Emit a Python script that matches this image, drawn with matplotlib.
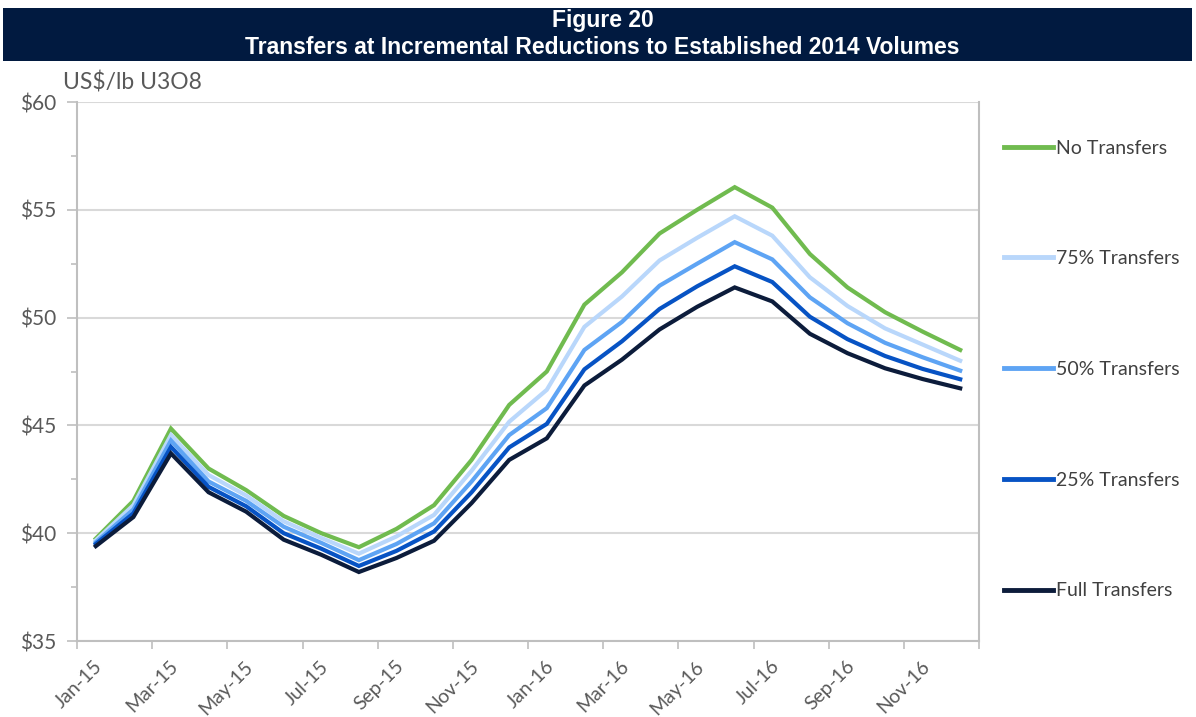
import matplotlib
matplotlib.use('Agg')
import matplotlib.pyplot as plt
from matplotlib.patches import Rectangle
import numpy as np

''' Data read off the Figure 20 chart (US$/lb U3O8, monthly) '''
months = ['Jan-15', 'Feb-15', 'Mar-15', 'Apr-15', 'May-15', 'Jun-15',
          'Jul-15', 'Aug-15', 'Sep-15', 'Oct-15', 'Nov-15', 'Dec-15',
          'Jan-16', 'Feb-16', 'Mar-16', 'Apr-16', 'May-16', 'Jun-16',
          'Jul-16', 'Aug-16', 'Sep-16', 'Oct-16', 'Nov-16', 'Dec-16']

no_transfers = [39.75, 41.5, 44.85, 43.0, 42.0, 40.8, 40.0, 39.35, 40.2, 41.3, 43.4, 45.95,
                47.5, 50.6, 52.1, 53.9, 55.0, 56.05, 55.1, 52.95, 51.4, 50.25, 49.35, 48.5]
transfers_75 = [39.67, 41.3, 44.55, 42.7, 41.75, 40.55, 39.78, 39.05, 39.85, 40.85, 42.9, 45.17,
                46.65, 49.57, 50.98, 52.65, 53.7, 54.7, 53.8, 51.87, 50.54, 49.5, 48.75, 48.0]
transfers_50 = [39.58, 41.1, 44.3, 42.4, 41.5, 40.3, 39.55, 38.75, 39.5, 40.46, 42.4, 44.55,
                45.8, 48.5, 49.8, 51.48, 52.5, 53.5, 52.7, 50.94, 49.74, 48.83, 48.16, 47.54]
transfers_25 = [39.5, 40.92, 44.0, 42.15, 41.25, 40.0, 39.28, 38.48, 39.18, 40.08, 41.9, 43.98,
                45.07, 47.6, 48.9, 50.4, 51.45, 52.38, 51.65, 50.04, 49.0, 48.22, 47.62, 47.14]
full_transfers = [39.4, 40.75, 43.7, 41.9, 41.0, 39.7, 39.0, 38.2, 38.85, 39.65, 41.4, 43.4,
                  44.4, 46.85, 48.05, 49.45, 50.5, 51.4, 50.75, 49.25, 48.35, 47.65, 47.15, 46.72]

series_labels = ['No Transfers', '75% Transfers', '50% Transfers', '25% Transfers', 'Full Transfers']
series_colors = ['#70bb4f', '#b9d7fb', '#5ea4f4', '#0753c4', '#0c1c3b']

y_ticks = [35, 40, 45, 50, 55, 60]

TEXT_GREY = '#595959'
GRID_GREY = '#d9d9d9'
AXIS_GREY = '#bfbfbf'

plt.rcParams['font.family'] = ['Lato', 'DejaVu Sans']

fig = plt.figure(figsize=(11.96, 7.17), dpi=100)

# Header band
fig.patches.append(Rectangle((3 / 1196, 1 - 61 / 717), 1189 / 1196, 53 / 717,
                             transform=fig.transFigure, facecolor='#011a40',
                             edgecolor='none', zorder=0))
title_font = ['Liberation Sans', 'DejaVu Sans']
fig.text(603 / 1196, 1 - 20 / 717, 'Figure 20', color='white', fontsize=16.5,
         fontweight='bold', ha='center', va='center', family=title_font)
fig.text(602 / 1196, 1 - 47 / 717, 'Transfers at Incremental Reductions to Established 2014 Volumes',
         color='white', fontsize=16.5, fontweight='bold', ha='center', va='center', family=title_font)

fig.text(63 / 1196, 1 - 82 / 717, 'US$/lb U3O8', color=TEXT_GREY, fontsize=16.5,
         ha='left', va='center')

ax = fig.add_axes([77 / 1196, 1 - 641 / 717, (979 - 77) / 1196, (641 - 102) / 717])

x = np.arange(len(months))
all_series = [no_transfers, transfers_75, transfers_50, transfers_25, full_transfers]
for values, label, color in zip(all_series, series_labels, series_colors):
    ax.plot(x, values, color=color, linewidth=3.0, label=label,
            solid_joinstyle='miter', zorder=3)

ax.set_xlim(-0.5, len(months) - 0.5)
ax.set_ylim(35, 60)

# y axis
ax.set_yticks(y_ticks)
ax.set_yticklabels(['$%d' % v for v in y_ticks])
ax.set_yticks(np.arange(35, 60.1, 2.5), minor=True)
ax.tick_params(axis='y', which='major', length=7, width=1.2, color=AXIS_GREY,
               labelcolor=TEXT_GREY, labelsize=15, pad=8)
ax.tick_params(axis='y', which='minor', length=4, width=1.2, color=AXIS_GREY)
ax.yaxis.grid(True, which='major', color=GRID_GREY, linewidth=1.5, zorder=0)

# x axis: tick marks between categories, labels every second month
ax.set_xticks(np.arange(-0.5, len(months), 2))
ax.set_xticklabels([])
ax.set_xticks(x[::2] - 0.05, minor=True)
ax.set_xticklabels(months[::2], minor=True, rotation=45, ha='right',
                   rotation_mode='anchor')
ax.tick_params(axis='x', which='major', length=6, width=1.2, color=AXIS_GREY)
ax.tick_params(axis='x', which='minor', length=0, labelcolor=TEXT_GREY,
               labelsize=14, pad=12)

for side in ['left', 'bottom', 'right']:
    ax.spines[side].set_color(AXIS_GREY)
    ax.spines[side].set_linewidth(1.5)
ax.spines['top'].set_visible(False)
ax.set_axisbelow(True)

leg = ax.legend(loc='upper left', bbox_to_anchor=(1004 / 1196, 1 - 139.5 / 717),
                bbox_transform=fig.transFigure, frameon=False, fontsize=14,
                handlelength=2.5, handletextpad=0.2, labelspacing=4.82,
                borderaxespad=0, borderpad=0)
for text in leg.get_texts():
    text.set_color('#404040')
for line in leg.get_lines():
    line.set_linewidth(3.5)

fig.savefig('out.png', dpi=100)
